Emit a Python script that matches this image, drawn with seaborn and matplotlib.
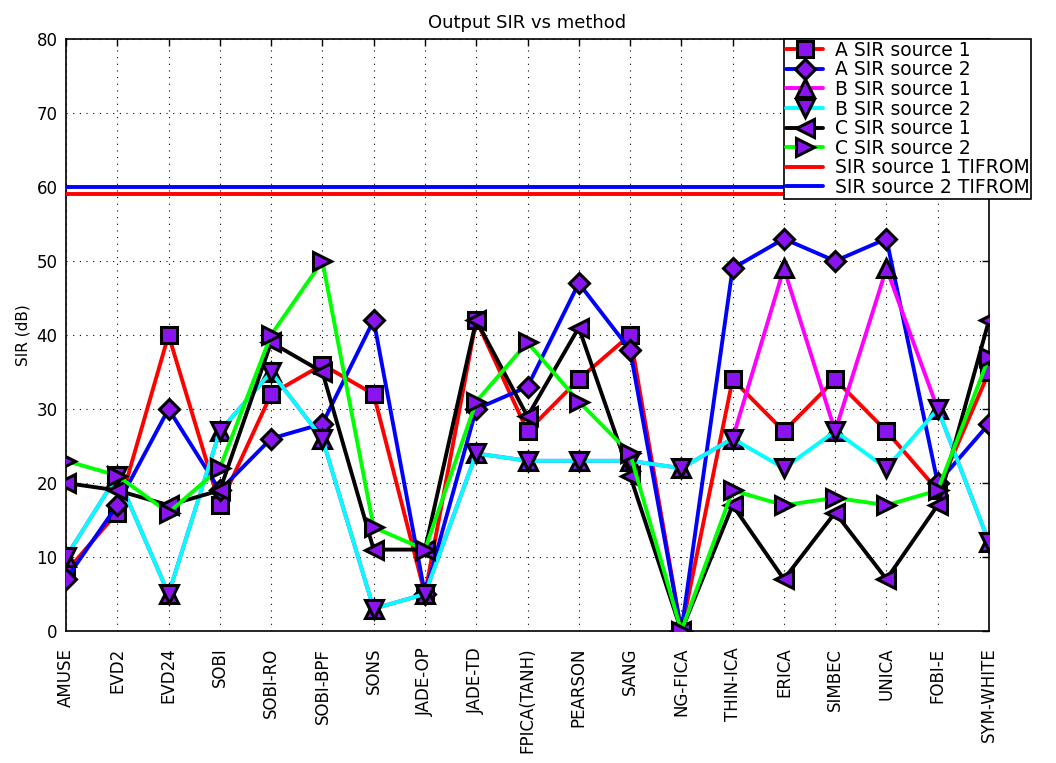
import matplotlib
matplotlib.use("Agg")
import matplotlib.pyplot as plt
import seaborn as sns
import pandas as pd

methods = ["AMUSE", "EVD2", "EVD24", "SOBI", "SOBI-RO", "SOBI-BPF", "SONS",
           "JADE-OP", "JADE-TD", "FPICA(TANH)", "PEARSON", "SANG", "NG-FICA",
           "THIN-ICA", "ERICA", "SIMBEC", "UNICA", "FOBI-E", "SYM-WHITE"]

a_src1 = [8, 16, 40, 17, 32, 36, 32, 5, 42, 27, 34, 40, 0, 34, 27, 34, 27, 19, 35]
a_src2 = [7, 17, 30, 19, 26, 28, 42, 5, 30, 33, 47, 38, 0, 49, 53, 50, 53, 20, 28]
b_src1 = [10, 21, 5, 27, 35, 26, 3, 5, 24, 23, 23, 23, 22, 26, 49, 27, 49, 30, 12]
b_src2 = [10, 21, 5, 27, 35, 26, 3, 5, 24, 23, 23, 23, 22, 26, 22, 27, 22, 30, 12]
c_src1 = [20, 19, 17, 19, 39, 35, 11, 11, 42, 29, 41, 21, 0, 17, 7, 16, 7, 17, 42]
c_src2 = [23, 21, 16, 22, 40, 50, 14, 11, 31, 39, 31, 24, 0, 19, 17, 18, 17, 19, 37]

tifrom_src1 = 59
tifrom_src2 = 60

series = [
    ("A SIR source 1", a_src1, "#ff0000", "s"),
    ("A SIR source 2", a_src2, "#0000ff", "D"),
    ("B SIR source 1", b_src1, "#ff00ff", "^"),
    ("B SIR source 2", b_src2, "#00ffff", "v"),
    ("C SIR source 1", c_src1, "#000000", "<"),
    ("C SIR source 2", c_src2, "#00ff00", ">"),
]

sns.set_style("white")
plt.rcParams["font.family"] = ["DejaVu Sans"]
plt.rcParams["text.color"] = "black"
plt.rcParams["axes.labelcolor"] = "black"
plt.rcParams["xtick.color"] = "black"
plt.rcParams["ytick.color"] = "black"

fig = plt.figure(figsize=(10.56, 7.63), dpi=100)
ax = fig.add_axes([66 / 1056, 1 - 631 / 763, (989 - 66) / 1056, (631 - 39) / 763])

face = "#8a14f0"
sizes = {"s": 11, "D": 10, "^": 13, "v": 13, "<": 13, ">": 13}
for label, vals, col, mk in series:
    df = pd.DataFrame({"method": methods, "sir": vals})
    sns.lineplot(data=df, x="method", y="sir", ax=ax, color=col, linewidth=2.8,
                 marker=mk, markersize=sizes[mk], markerfacecolor=face,
                 markeredgecolor="black", markeredgewidth=2.2, label=label,
                 sort=False, zorder=3)

ax.axhline(tifrom_src1, color="#ff0000", linewidth=2.8, label="SIR source 1 TIFROM", zorder=3)
ax.axhline(tifrom_src2, color="#0000ff", linewidth=2.8, label="SIR source 2 TIFROM", zorder=3)

ax.set_xlim(0, len(methods) - 1)
ax.set_ylim(0, 80)
ax.set_yticks(range(0, 81, 10))
ax.set_xticks(range(len(methods)))
ax.set_xticklabels(methods, rotation=90, fontsize=12)
ax.tick_params(axis="y", labelsize=12, pad=6)
ax.tick_params(axis="x", pad=12)
ax.tick_params(direction="in", length=5, width=1, top=True, right=True,
               color="black", labelcolor="black")
ax.grid(True, color="black", linestyle=(0, (1, 5)), linewidth=0.8)
for s in ax.spines.values():
    s.set_visible(True)
    s.set_color("black")
    s.set_linewidth(1.2)

ax.set_xlabel("")
ax.set_ylabel("SIR (dB)", fontsize=11, color="black")
ax.set_title("Output SIR vs method", fontsize=13, pad=8, color="black")

leg = ax.legend(loc="upper left", bbox_to_anchor=(784 / 1056, 1 - 39 / 763),
                bbox_transform=fig.transFigure, borderaxespad=0, fontsize=13.5,
                frameon=True, fancybox=False, framealpha=1, edgecolor="black",
                labelspacing=0.03, handlelength=2.0, handletextpad=0.6,
                borderpad=0.1, labelcolor="black")
leg.get_frame().set_linewidth(1.2)
leg.set_zorder(10)

fig.savefig("out.png", dpi=100)
